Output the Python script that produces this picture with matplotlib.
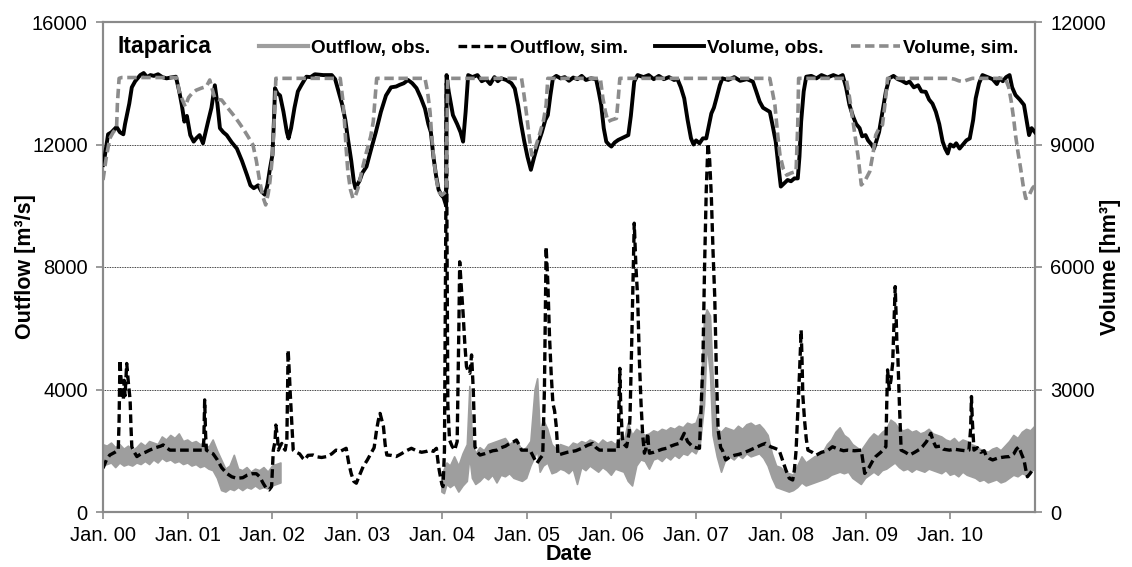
import numpy as np
import matplotlib
matplotlib.use("Agg")
import matplotlib.pyplot as plt
from matplotlib.lines import Line2D

plt.rcParams['font.family'] = ['Liberation Sans', 'DejaVu Sans']

# ---------------- data (t = years since Jan. 2000) ----------------
year_ticks = list(range(0, 11))
year_labels = ["Jan. %02d" % y for y in year_ticks]

# Observed outflow (dense daily series shown as envelope low/high), m3/s
obs_t = [0.00, 0.05, 0.10, 0.15, 0.20, 0.25, 0.30, 0.35, 0.40, 0.45, 0.50, 0.55, 0.60, 0.65,
         0.70, 0.75, 0.80, 0.85, 0.90, 0.95, 1.00, 1.05, 1.10, 1.15, 1.20, 1.25, 1.30, 1.35,
         1.40, 1.45, 1.50, 1.55, 1.60, 1.65, 1.70, 1.75, 1.80, 1.85, 1.90, 1.95, 2.00, 2.05, 2.10,
         2.11,
         4.00, 4.03, 4.06, 4.10, 4.15, 4.20, 4.25, 4.30, 4.33, 4.36, 4.40, 4.45, 4.50, 4.55,
         4.60, 4.65, 4.70, 4.75, 4.80, 4.85, 4.90, 4.95, 5.00, 5.05, 5.10, 5.13, 5.16, 5.20,
         5.25, 5.30, 5.35, 5.40, 5.45, 5.50, 5.55, 5.60, 5.65, 5.70, 5.75, 5.80, 5.85, 5.90,
         5.95, 6.00, 6.05, 6.10, 6.15, 6.20, 6.25, 6.30, 6.35, 6.40, 6.45, 6.50, 6.55, 6.60,
         6.65, 6.70, 6.75, 6.80, 6.85, 6.90, 6.95, 7.00, 7.05, 7.10, 7.13, 7.17, 7.20, 7.25,
         7.30, 7.35, 7.40, 7.45, 7.50, 7.55, 7.60, 7.65, 7.70, 7.75, 7.80, 7.85, 7.90, 7.95,
         8.00, 8.05, 8.10, 8.15, 8.20, 8.25, 8.30, 8.35, 8.40, 8.45, 8.50, 8.55, 8.60, 8.65,
         8.70, 8.75, 8.80, 8.85, 8.90, 8.95, 9.00, 9.05, 9.10, 9.15, 9.20, 9.25, 9.30, 9.35,
         9.40, 9.45, 9.50, 9.55, 9.60, 9.65, 9.70, 9.75, 9.80, 9.85, 9.90, 9.95, 10.00, 10.05,
         10.10, 10.15, 10.20, 10.25, 10.30, 10.35, 10.40, 10.45, 10.50, 10.55, 10.60, 10.65,
         10.70, 10.75, 10.80, 10.85, 10.90, 10.95, 11.00]
obs_lo = [1500, 1550, 1600, 1450, 1600, 1500, 1550, 1500, 1600, 1550, 1650, 1550, 1700, 1600,
          1750, 1650, 1700, 1600, 1650, 1550, 1600, 1500, 1550, 1450, 1500, 1400, 1350, 1100,
          700, 650, 750, 700, 800, 700, 800, 750, 850, 750, 800, 750, 850, 900, 950,
          np.nan,
          650, 600, 900, 800, 900, 650, 850, 1000, 1800, 1100, 900, 1000, 1150, 1050,
          1200, 950, 1200, 1150, 1250, 1100, 1050, 1000, 1100, 1500, 1800, 2000, 1300, 1500,
          1600, 1250, 1300, 1400, 1350, 1250, 1400, 900, 1450, 1350, 1500, 1400, 1300, 1450,
          1350, 1200, 1400, 1350, 1300, 1000, 850, 1500, 1700, 1650, 1400, 1700, 1750, 1650,
          1800, 1700, 1850, 1750, 1900, 1850, 2000, 1900, 2200, 3500, 5500, 4500, 2500, 1800,
          1300, 1700, 1800, 1700, 1850, 1750, 1900, 1800, 1850, 1900, 1750, 1500, 1100, 800,
          750, 700, 650, 700, 800, 950, 850, 900, 950, 1000, 1050, 1100, 1200, 1250,
          1300, 1250, 1300, 1100, 1000, 900, 1100, 1200, 1300, 1200, 1350, 1400, 1500, 1600,
          1450, 1350, 1400, 1300, 1400, 1350, 1300, 1400, 1350, 1300, 1250, 1350, 1200, 1250,
          1150, 1300, 1200, 1150, 1100, 1000, 1050, 950, 1000, 1050, 950, 1000,
          1100, 1200, 1150, 1250, 1200, 1300, 1400]
obs_hi = [2200, 2150, 2250, 2100, 2200, 2050, 2150, 2000, 2100, 2250, 2150, 2300, 2250, 2200,
          2450, 2350, 2500, 2400, 2550, 2300, 2350, 2250, 2300, 2200, 2250, 2100, 2350, 2000,
          1700, 1400, 1500, 1850, 1400, 1350, 1450, 1300, 1400, 1350, 1450, 1300, 1500, 1550, 1600,
          np.nan,
          1200, 1400, 1600, 1500, 1800, 1500, 1900, 2200, 4100, 2300, 1900, 2100, 2000, 2200,
          2250, 2300, 2350, 2400, 2200, 2300, 2250, 2000, 2100, 2300, 4000, 4350, 2600, 3000,
          2700, 2200, 2050, 2200, 2150, 2100, 2250, 2200, 2300, 2250, 2350, 2300, 2200, 2350,
          2250, 2300, 2200, 2400, 2300, 2900, 2500, 2700, 2600, 2500, 2550, 2650, 2600, 2700,
          2650, 2750, 2700, 2800, 2750, 2900, 2850, 2900, 3300, 6300, 6600, 6400, 4500, 2700,
          2600, 2750, 2700, 2650, 2800, 2700, 2850, 2900, 2800, 2850, 2700, 2500, 1900, 1500,
          1450, 1300, 1250, 1200, 1500, 1800, 1600, 1700, 1800, 1850, 1950, 2200, 2350, 2600,
          2750, 2500, 2400, 2200, 2100, 2000, 2200, 2400, 2550, 2450, 2600, 2700, 3000, 2900,
          2700, 2650, 2700, 2600, 2650, 2550, 2600, 2700, 2550, 2500, 2450, 2350, 2300, 2400,
          2250, 2350, 2300, 2200, 2150, 2050, 2000, 1950, 2050, 2100, 2000, 2150,
          2300, 2500, 2400, 2600, 2700, 2650, 2800]

# Simulated outflow, m3/s
sim_q_t = [0.00, 0.04, 0.08, 0.14, 0.18, 0.19, 0.20, 0.22, 0.24, 0.25, 0.26, 0.27, 0.28, 0.30,
           0.32, 0.33, 0.34, 0.37, 0.40, 0.45, 0.50, 0.55, 0.62, 0.68, 0.71, 0.75, 0.79, 0.90,
           1.00, 1.10, 1.18, 1.19, 1.20, 1.21, 1.22, 1.26, 1.30, 1.35, 1.40, 1.46, 1.52, 1.58,
           1.65, 1.70, 1.76, 1.81, 1.85, 1.89, 1.93, 1.96, 1.99, 2.01, 2.03, 2.04, 2.06, 2.07,
           2.09, 2.11, 2.13, 2.15, 2.17, 2.185, 2.20, 2.21, 2.23, 2.245, 2.28, 2.32, 2.36, 2.38,
           2.42, 2.48, 2.53, 2.58, 2.64, 2.70, 2.75, 2.80, 2.87, 2.90, 2.93, 2.96, 2.99, 3.02,
           3.07, 3.12, 3.17, 3.20, 3.23, 3.25, 3.27, 3.29, 3.31, 3.33, 3.35, 3.40, 3.46, 3.52,
           3.58, 3.64, 3.70, 3.76, 3.82, 3.86, 3.90, 3.935, 3.96, 3.975, 4.00, 4.013, 4.03, 4.045,
           4.053, 4.06, 4.07, 4.09, 4.12, 4.15, 4.18, 4.20, 4.21, 4.23, 4.25, 4.27, 4.29, 4.31,
           4.33, 4.35, 4.37, 4.39, 4.42, 4.45, 4.50, 4.55, 4.60, 4.65, 4.70, 4.75, 4.80, 4.85,
           4.88, 4.91, 4.94, 4.99, 5.04, 5.08, 5.12, 5.16, 5.19, 5.21, 5.23, 5.25, 5.27, 5.29,
           5.31, 5.33, 5.35, 5.37, 5.42, 5.48, 5.58, 5.65, 5.72, 5.78, 5.82, 5.86, 5.95, 6.04,
           6.08, 6.09, 6.10, 6.11, 6.13, 6.14, 6.18, 6.21, 6.22, 6.24, 6.27, 6.29, 6.31, 6.33,
           6.35, 6.37, 6.39, 6.41, 6.43, 6.44, 6.45, 6.50, 6.55, 6.60, 6.65, 6.70, 6.75, 6.80,
           6.83, 6.86, 6.90, 6.96, 7.00, 7.04, 7.06, 7.08, 7.10, 7.12, 7.14, 7.16, 7.18, 7.20,
           7.22, 7.24, 7.26, 7.29, 7.31, 7.35, 7.40, 7.45, 7.50, 7.55, 7.62, 7.70, 7.78, 7.82,
           7.88, 7.93, 7.98, 8.02, 8.06, 8.10, 8.14, 8.16, 8.18, 8.20, 8.22, 8.24, 8.25, 8.26,
           8.28, 8.30, 8.32, 8.37, 8.42, 8.48, 8.55, 8.61, 8.68, 8.74, 8.79, 8.87, 8.95, 8.99,
           9.04, 9.08, 9.12, 9.18, 9.24, 9.25, 9.26, 9.28, 9.30, 9.31, 9.32, 9.34, 9.35, 9.36,
           9.37, 9.38, 9.40, 9.42, 9.47, 9.52, 9.58, 9.64, 9.67, 9.72, 9.77, 9.80, 9.83, 9.88,
           9.92, 9.99, 10.05, 10.12, 10.18, 10.22, 10.24, 10.25, 10.26, 10.28, 10.32, 10.36,
           10.40, 10.42, 10.46, 10.50, 10.55, 10.60, 10.65, 10.70, 10.75, 10.78, 10.81, 10.84,
           10.87, 10.89, 10.91, 10.94, 10.97, 11.00]
sim_q = [1430, 1700, 1860, 1950, 2020, 3000, 4960, 4000, 3660, 4300, 3800, 4310, 4850, 4200,
         3660, 2800, 2130, 1950, 1810, 1900, 1950, 2020, 2100, 2150, 2190, 2100, 2020, 2020,
         2020, 2020, 2020, 2350, 3660, 2600, 2020, 1950, 1900, 1700, 1450, 1260, 1150, 1100,
         1120, 1200, 1250, 1250, 1150, 940, 760, 720, 830, 2020, 2300, 2840, 2400, 2020,
         2150, 2240, 2100, 2020, 2350, 5290, 4500, 3870, 2800, 2020, 1950, 1900, 1750, 1700,
         1850, 1860, 1800, 1780, 1810, 1900, 2020, 1980, 2080, 1600, 1250, 1000, 940, 1150,
         1480, 1700, 1950, 2100, 2700, 3000, 3220, 3000, 2790, 2200, 1860, 1850, 1810, 1900,
         2000, 2080, 2000, 1950, 1980, 2020, 1980, 2080, 1500, 1260, 900, 830, 2000, 9000,
         14000, 9000, 3500, 2350, 2150, 2020, 2300, 6000, 8170, 7300, 6490, 5500, 4750, 4600,
         4530, 5130, 4000, 2130, 1950, 1860, 1900, 1950, 2000, 2020, 2100, 2150, 2240, 2300,
         2350, 2200, 2020, 2020, 2020, 1800, 1590, 1750, 1860, 4000, 8660, 7500, 5730, 4500,
         3550, 3300, 2790, 1860, 1900, 1950, 2000, 2080, 2180, 2240, 2100, 2020, 2020, 2020,
         2020, 3500, 4690, 3500, 2400, 2240, 2130, 2600, 3110, 5500, 9430, 8000, 7030, 5000,
         3550, 2500, 1920, 2100, 2570, 2100, 1920, 1950, 2000, 2050, 2080, 2150, 2200, 2240,
         2400, 2570, 2300, 2130, 2100, 2080, 3500, 4850, 8000, 10510, 12040, 11500, 10300, 8500,
         7030, 4500, 2680, 2100, 2020, 1700, 1800, 1850, 1880, 1920, 2000, 2100, 2200, 2240,
         2130, 2080, 2020, 1700, 1370, 1100, 1045, 1370, 2000, 3220, 4500, 5940, 5000, 3800,
         3000, 2400, 2020, 1950, 1860, 1950, 2000, 2130, 2050, 2000, 2020, 2000, 2020, 1260,
         1450, 1650, 1810, 1950, 2130, 3500, 4640, 4000, 4310, 4600, 4850, 6500, 7360, 6500,
         5500, 5180, 3500, 2020, 1950, 1860, 1950, 2050, 2130, 2300, 2570, 2300, 2130, 2150,
         2050, 2020, 2050, 2020, 2000, 2020, 2700, 3770, 3000, 2020, 2100, 1950,
         2000, 1860, 1750, 1700, 1750, 1780, 1800, 1810, 1900, 2050, 2130, 1900,
         1700, 1400, 1150, 1250, 1370, 1350]

# Observed volume, hm3
vol_obs_t = [0.00, 0.02, 0.06, 0.10, 0.16, 0.20, 0.24, 0.26, 0.28, 0.31, 0.34, 0.38, 0.44, 0.48,
             0.52, 0.56, 0.60, 0.65, 0.70, 0.75, 0.80, 0.86, 0.90, 0.93, 0.96, 0.99, 1.03, 1.07,
             1.10, 1.14, 1.18, 1.21, 1.24, 1.28, 1.32, 1.35, 1.38, 1.42, 1.46, 1.52, 1.58, 1.64,
             1.70, 1.74, 1.78, 1.83, 1.87, 1.91, 1.94, 1.97, 2.00, 2.02, 2.03, 2.06, 2.09, 2.13,
             2.17, 2.19, 2.22, 2.26, 2.30, 2.34, 2.40, 2.45, 2.50, 2.60, 2.70, 2.74, 2.78, 2.82,
             2.86, 2.89, 2.93, 2.96, 2.98, 3.03, 3.06, 3.11, 3.16, 3.22, 3.28, 3.34, 3.40, 3.46,
             3.50, 3.55, 3.60, 3.65, 3.70, 3.75, 3.80, 3.84, 3.87, 3.90, 3.93, 3.96, 3.99, 4.02,
             4.05, 4.055, 4.08, 4.13, 4.18, 4.22, 4.25, 4.28, 4.31, 4.36, 4.42, 4.47, 4.52, 4.57,
             4.62, 4.66, 4.70, 4.76, 4.82, 4.86, 4.90, 4.93, 4.97, 5.01, 5.05, 5.09, 5.13, 5.18,
             5.22, 5.25, 5.28, 5.31, 5.35, 5.40, 5.45, 5.50, 5.55, 5.60, 5.65, 5.70, 5.76, 5.82,
             5.85, 5.88, 5.91, 5.94, 5.97, 6.00, 6.04, 6.08, 6.12, 6.17, 6.20, 6.23, 6.27, 6.31,
             6.38, 6.44, 6.50, 6.56, 6.62, 6.68, 6.74, 6.78, 6.82, 6.86, 6.90, 6.94, 6.97, 7.00,
             7.04, 7.08, 7.12, 7.15, 7.18, 7.21, 7.24, 7.28, 7.31, 7.38, 7.45, 7.52, 7.60, 7.67,
             7.71, 7.75, 7.79, 7.83, 7.87, 7.90, 7.94, 7.97, 8.00, 8.04, 8.08, 8.12, 8.16, 8.20,
             8.22, 8.24, 8.27, 8.30, 8.36, 8.42, 8.48, 8.55, 8.62, 8.68, 8.73, 8.77, 8.81, 8.85,
             8.89, 8.93, 8.96, 9.00, 9.03, 9.07, 9.10, 9.13, 9.16, 9.20, 9.24, 9.28, 9.33, 9.38,
             9.43, 9.48, 9.52, 9.57, 9.62, 9.66, 9.71, 9.75, 9.79, 9.83, 9.87, 9.91, 9.94, 9.97,
             10.00, 10.04, 10.07, 10.11, 10.15, 10.19, 10.23, 10.27, 10.30, 10.34, 10.38, 10.44,
             10.50, 10.55, 10.58, 10.62, 10.66, 10.70, 10.73, 10.77, 10.82, 10.87, 10.90, 10.93,
             10.96, 11.00]
vol_obs = [8500, 8700, 9250, 9300, 9430, 9300, 9250, 9500, 9700, 10000, 10400, 10550, 10700, 10750,
           10650, 10700, 10680, 10720, 10650, 10620, 10640, 10660, 10300, 9970, 9560, 9700, 9230, 9070,
           9150, 9230, 9030, 9300, 9560, 9900, 10450, 10000, 9400, 9300, 9230, 9050, 8900, 8600,
           8250, 8000, 7930, 8000, 7850, 7770, 8000, 8400, 8750, 9700, 10380, 10250, 10200, 9800,
           9300, 9150, 9400, 9900, 10300, 10450, 10660, 10650, 10720, 10700, 10700, 10600, 10300, 10000,
           9600, 9150, 8600, 8100, 7930, 8120, 8300, 8460, 8850, 9300, 9800, 10200, 10400, 10420,
           10460, 10500, 10580, 10500, 10380, 10150, 9880, 9500, 9300, 8700, 8250, 7900, 7770, 7700,
           7500, 10700, 10300, 9720, 9500, 9300, 9070, 9800, 10700, 10650, 10700, 10550, 10600, 10480,
           10650, 10550, 10620, 10580, 10500, 10370, 9950, 9560, 9100, 8700, 8380, 8700, 8990, 9300,
           9600, 9720, 10200, 10620, 10680, 10620, 10650, 10560, 10640, 10600, 10680, 10580, 10620, 10600,
           10300, 9970, 9400, 9070, 9000, 8950, 9050, 9110, 9150, 9200, 9230, 9700, 10540, 10700,
           10650, 10700, 10600, 10680, 10600, 10650, 10580, 10600, 10400, 10130, 9600, 9150, 9000, 9100,
           9030, 9150, 9150, 9450, 9760, 9900, 10130, 10450, 10620, 10580, 10650, 10560, 10600, 10540,
           10300, 10050, 9900, 9850, 9800, 9500, 9070, 8500, 7970, 8050, 8130, 8100, 8170, 8170,
           8700, 9560, 10300, 10660, 10680, 10620, 10700, 10640, 10700, 10650, 10700, 10400, 9970, 9700,
           9500, 9400, 9200, 9230, 9100, 9000, 8900, 9100, 9310, 9800, 10300, 10620, 10680, 10600,
           10560, 10500, 10540, 10400, 10450, 10300, 10290, 10100, 10000, 9800, 9500, 9070, 8900, 8780,
           9000, 8950, 9030, 8900, 9000, 9100, 9150, 9600, 10130, 10500, 10700, 10650,
           10600, 10480, 10620, 10550, 10650, 10700, 10400, 10210, 10100, 9970, 9600, 9230,
           9400, 9300]

# Simulated volume, hm3
vol_sim_t = [0.00, 0.04, 0.08, 0.12, 0.16, 0.17, 0.19, 0.22, 0.87, 0.90, 0.93, 0.97, 1.01, 1.05,
             1.10, 1.16, 1.22, 1.26, 1.29, 1.32, 1.36, 1.40, 1.47, 1.54, 1.60, 1.65, 1.71, 1.77,
             1.81, 1.85, 1.89, 1.92, 1.95, 1.97, 2.00, 2.01, 2.03, 2.04, 2.80, 2.83, 2.85, 2.87,
             2.89, 2.92, 2.95, 2.98, 3.01, 3.06, 3.11, 3.16, 3.19, 3.21, 3.23, 3.80, 3.83, 3.86,
             3.88, 3.90, 3.93, 3.96, 4.00, 4.05, 4.06, 4.07, 4.94, 4.97, 5.00, 5.03, 5.06, 5.10,
             5.15, 5.20, 5.23, 5.25, 5.87, 5.90, 5.93, 5.96, 6.00, 6.06, 6.08, 6.10, 7.87, 7.90,
             7.93, 7.96, 7.99, 8.03, 8.07, 8.12, 8.18, 8.20, 8.21, 8.77, 8.80, 8.83, 8.87, 8.91,
             8.95, 8.99, 9.05, 9.09, 9.12, 9.16, 9.20, 9.23, 9.26, 10.00, 10.05, 10.10, 10.15,
             10.20, 10.26, 10.65, 10.69, 10.72, 10.75, 10.77, 10.80, 10.83, 10.86, 10.89, 10.92,
             10.94, 10.97, 11.00]
vol_sim = [8130, 8700, 9150, 9300, 9400, 10000, 10620, 10640, 10640, 10300, 10130, 9930, 10150, 10250,
           10330, 10380, 10420, 10580, 10350, 10130, 10100, 10090, 9900, 9720, 9550, 9400, 9200, 8990,
           8600, 8090, 7700, 7520, 7800, 8090, 8700, 9150, 10000, 10620, 10620, 10100, 9560, 8900,
           8340, 7900, 7680, 7750, 7930, 8400, 8820, 9200, 9560, 10100, 10620, 10620, 10300, 9800,
           9200, 8740, 8200, 7850, 7760, 7850, 9500, 10620, 10620, 10200, 9720, 9200, 8740, 8900,
           9230, 9600, 9970, 10620, 10620, 10130, 9800, 9560, 9600, 9640, 10100, 10620, 10620, 10300,
           9970, 9300, 8740, 8400, 8250, 8300, 8340, 9500, 10620, 10620, 10300, 9890, 9300, 8740,
           8010, 8100, 8340, 8800, 9230, 9400, 9480, 10000, 10620, 10620, 10600, 10560, 10540,
           10580, 10620, 10620, 10400, 10050, 9600, 9230, 8800, 8420, 8000, 7680, 7700,
           7800, 7930, 8000]

# ---------------- figure ----------------
fig = plt.figure(figsize=(11.32, 5.67), dpi=100)
ax = fig.add_axes([103 / 1132, 1 - 512 / 567, 932 / 1132, 490 / 567])
ax2 = ax.twinx()

spine_col = '#8a8a8a'
obs_col = '#9e9e9e'
vsim_col = '#8c8c8c'
dash = (0, (2.6, 1.3))

# observed outflow band
ax.fill_between(obs_t, obs_lo, obs_hi, color=obs_col, linewidth=1.2, edgecolor=obs_col, zorder=2)
# simulated outflow
ax.plot(sim_q_t, sim_q, color='black', lw=2.4, ls=dash, zorder=3)

# volumes
ax2.plot(vol_obs_t, vol_obs, color='black', lw=2.8, solid_joinstyle='round', zorder=3)
ax2.plot(vol_sim_t, vol_sim, color=vsim_col, lw=2.6, ls=dash, zorder=4)

ax.set_xlim(0, 11)
ax.set_ylim(0, 16000)
ax2.set_ylim(0, 12000)
ax.set_yticks([0, 4000, 8000, 12000, 16000])
ax2.set_yticks([0, 3000, 6000, 9000, 12000])
ax.set_xticks(year_ticks)
ax.set_xticklabels(year_labels)

for a in (ax, ax2):
    for s in a.spines.values():
        s.set_color(spine_col)
        s.set_linewidth(1.5)
    a.tick_params(axis='both', colors=spine_col, labelcolor='black', labelsize=14.5,
                  length=5, width=1.2, direction='out', pad=6)
ax.tick_params(axis='x', pad=5)

ax.yaxis.grid(True, color='black', linestyle=(0, (1, 1)), linewidth=0.6)
ax.set_axisbelow(True)

ax.set_xlabel('Date', fontsize=15.5, fontweight='bold')
ax.set_ylabel('Outflow [m³/s]', fontsize=15.5, fontweight='bold')
ax2.set_ylabel('Volume [hm³]', fontsize=15.5, fontweight='bold')
ax.xaxis.set_label_coords(0.5, -0.066)
ax.yaxis.set_label_coords(-0.072, 0.5)
ax2.yaxis.set_label_coords(1.07, 0.5)

ax.text(0.016, 0.949, 'Itaparica', transform=ax.transAxes, fontsize=16.5,
        fontweight='bold', va='center', ha='left')

handles = [Line2D([], [], color=obs_col, lw=3),
           Line2D([], [], color='black', lw=2.4, ls=dash),
           Line2D([], [], color='black', lw=2.8),
           Line2D([], [], color=vsim_col, lw=2.6, ls=dash)]
labels = ['Outflow, obs.', 'Outflow, sim.', 'Volume, obs.', 'Volume, sim.']
leg = ax2.legend(handles, labels, ncol=4, loc='center right', bbox_to_anchor=(0.99, 0.947),
                 frameon=False, handlelength=2.6, handletextpad=0.15, columnspacing=1.45,
                 prop={'weight': 'bold', 'size': 13.6}, borderaxespad=0)

fig.savefig('out.png', dpi=100)
